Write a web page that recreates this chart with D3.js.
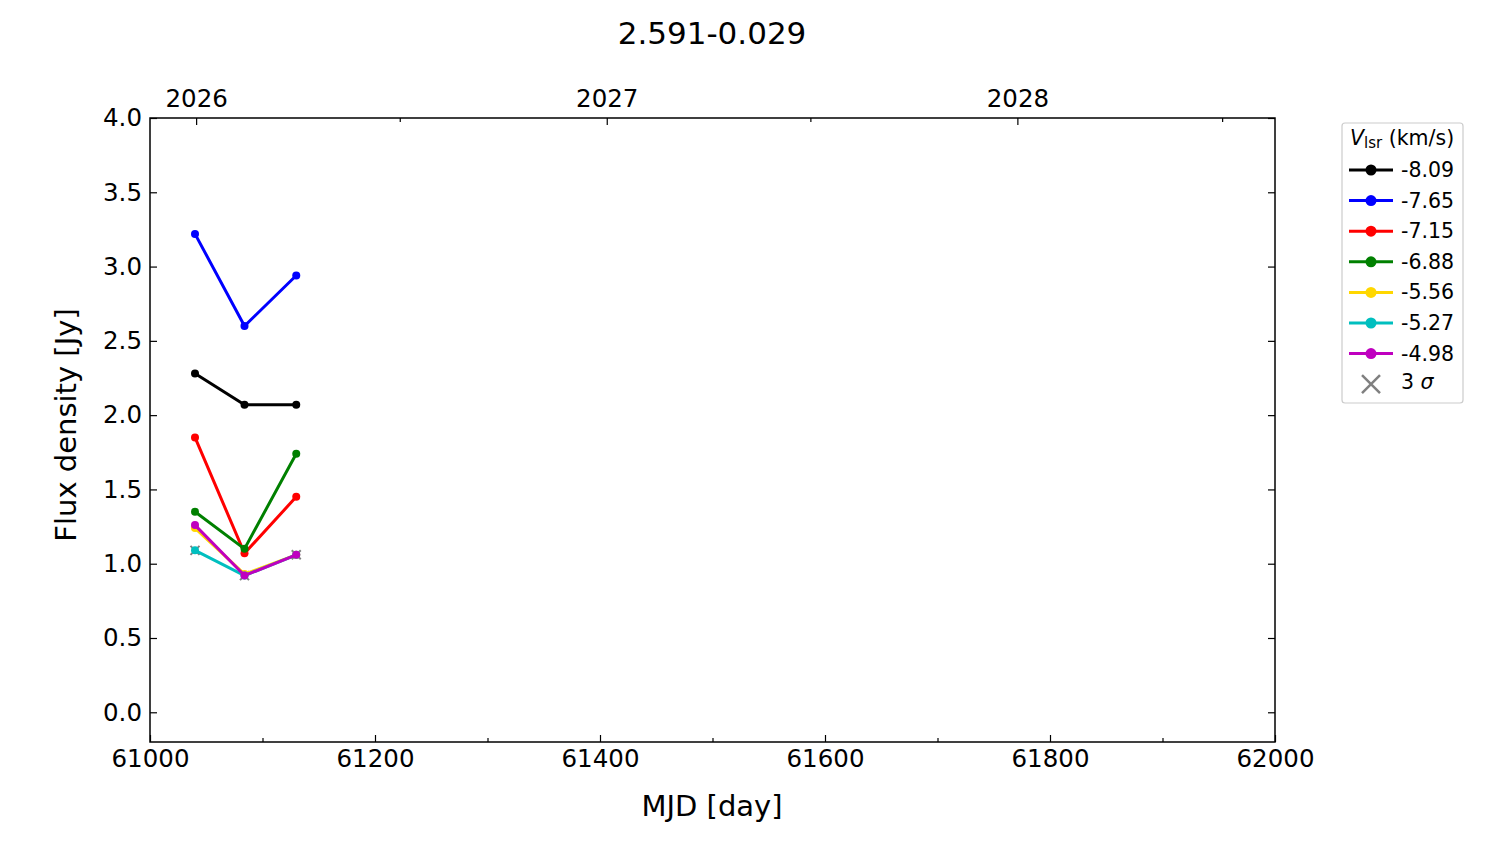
<!DOCTYPE html>
<html><head><meta charset="utf-8">
<script src="https://cdn.jsdelivr.net/npm/d3@7"></script>
<style>body{margin:0;background:#fff}text{font-family:"DejaVu Sans",sans-serif}</style>
</head><body><svg id="c" width="1500" height="844"></svg>
<script>
const title = "2.591-0.029";
const mjd = [61040, 61084, 61130];
const velocities = ["-8.09","-7.65","-7.15","-6.88","-5.56","-5.27","-4.98"];
const colors = ["#000000","#0000ff","#ff0000","#008000","#ffd700","#00bfbf","#bf00bf"];
const flux = [
  [2.28, 2.07, 2.07],
  [3.22, 2.60, 2.94],
  [1.85, 1.07, 1.45],
  [1.35, 1.10, 1.74],
  [1.24, 0.93, 1.06],
  [1.09, 0.92, 1.06],
  [1.26, 0.92, 1.06]
];
const sigma3 = [1.09, 0.92, 1.06];
const xTicks = [61000,61200,61400,61600,61800,62000];
const xMinor = [61100,61300,61500,61700,61900];
const yTicks = [0,0.5,1,1.5,2,2.5,3,3.5,4];
const years = [{label:"2026",mjd:61041},{label:"2027",mjd:61406},{label:"2028",mjd:61771}];
const halfYears = [61222, 61587, 61953];

const svg = d3.select("#c");
const L=150,R=1275,T=118,B=742;
const x = d3.scaleLinear().domain([61000,62000]).range([L,R]);
const y = d3.scaleLinear().domain([-0.2,4.0]).range([B,T]);

const fs = 24.5;
const bx = svg.append("g").attr("transform",`translate(0,${B})`)
  .call(d3.axisBottom(x).tickValues(xTicks).tickFormat(d3.format("d")).tickSizeInner(-7).tickSizeOuter(0).tickPadding(8));
const bxm = svg.append("g").attr("transform",`translate(0,${B})`)
  .call(d3.axisBottom(x).tickValues(xMinor).tickFormat("").tickSizeInner(-4).tickSizeOuter(0));
const tx = svg.append("g").attr("transform",`translate(0,${T})`)
  .call(d3.axisTop(x).tickValues(years.map(d=>d.mjd)).tickFormat((d,i)=>years[i].label).tickSizeInner(-7).tickSizeOuter(0).tickPadding(11));
const txm = svg.append("g").attr("transform",`translate(0,${T})`)
  .call(d3.axisTop(x).tickValues(halfYears).tickFormat("").tickSizeInner(-4).tickSizeOuter(0));
const ly = svg.append("g").attr("transform",`translate(${L},0)`)
  .call(d3.axisLeft(y).tickValues(yTicks).tickFormat(d3.format(".1f")).tickSizeInner(-7).tickSizeOuter(0).tickPadding(8));
const ry = svg.append("g").attr("transform",`translate(${R},0)`)
  .call(d3.axisRight(y).tickValues(yTicks).tickFormat("").tickSizeInner(-7).tickSizeOuter(0));
[bx,bxm,tx,txm,ly,ry].forEach(g=>{
  g.select(".domain").remove();
  g.selectAll("line").attr("stroke","#000").attr("stroke-width",1.2);
  g.selectAll("text").attr("font-size",fs).attr("fill","#000").style("font-family","DejaVu Sans");
});
svg.append("rect").attr("x",L).attr("y",T).attr("width",R-L).attr("height",B-T)
  .attr("fill","none").attr("stroke","#000").attr("stroke-width",1.5);

svg.append("text").attr("x",712).attr("y",44).attr("text-anchor","middle").attr("font-size",31).text(title);
svg.append("text").attr("x",712).attr("y",816).attr("text-anchor","middle").attr("font-size",29).text("MJD [day]");
svg.append("text").attr("transform",`translate(76,${(T+B)/2-5}) rotate(-90)`).attr("text-anchor","middle").attr("font-size",29).text("Flux density [Jy]");

const plot = svg.append("g");
const cr = 4.5;
plot.selectAll("path.sig").data(mjd).join("path").attr("class","sig")
  .attr("d",(d,i)=>{const cx=x(d),cy=y(sigma3[i]);return `M${cx-cr},${cy-cr}L${cx+cr},${cy+cr}M${cx-cr},${cy+cr}L${cx+cr},${cy-cr}`;})
  .attr("stroke","#808080").attr("stroke-width",2);

const line = d3.line().x((d,i)=>x(mjd[i])).y(d=>y(d));
flux.forEach((s,k)=>{
  plot.append("path").datum(s).attr("d",line).attr("fill","none").attr("stroke",colors[k]).attr("stroke-width",3);
  plot.selectAll(null).data(s).join("circle").attr("cx",(d,i)=>x(mjd[i])).attr("cy",d=>y(d)).attr("r",4).attr("fill",colors[k]);
});

const lg = svg.append("g");
lg.append("rect").attr("x",1342).attr("y",123).attr("width",121).attr("height",280).attr("rx",3)
  .attr("fill","#fff").attr("stroke","#ccc").attr("stroke-width",1.2);
const lt = lg.append("text").attr("x",1350).attr("y",145).attr("font-size",20.5);
lt.append("tspan").attr("font-style","italic").text("V");
lt.append("tspan").attr("font-size",15).attr("dy",3).text("lsr");
lt.append("tspan").attr("dy",-3).text(" (km/s)");
velocities.forEach((v,k)=>{
  const yy = 170 + k*30.6;
  lg.append("line").attr("x1",1349).attr("x2",1393).attr("y1",yy).attr("y2",yy).attr("stroke",colors[k]).attr("stroke-width",3);
  lg.append("circle").attr("cx",1371).attr("cy",yy).attr("r",5.5).attr("fill",colors[k]);
  lg.append("text").attr("x",1401).attr("y",yy+7).attr("font-size",20.5).text(v);
});
const sy = 170 + 7*30.6, sc=1371, cs=9;
lg.append("path").attr("d",`M${sc-cs},${sy-cs}L${sc+cs},${sy+cs}M${sc-cs},${sy+cs}L${sc+cs},${sy-cs}`).attr("stroke","#808080").attr("stroke-width",2.5);
const st = lg.append("text").attr("x",1401).attr("y",sy+5).attr("font-size",20.5);
st.append("tspan").text("3 ");
st.append("tspan").attr("font-style","italic").text("σ");
</script></body></html>
